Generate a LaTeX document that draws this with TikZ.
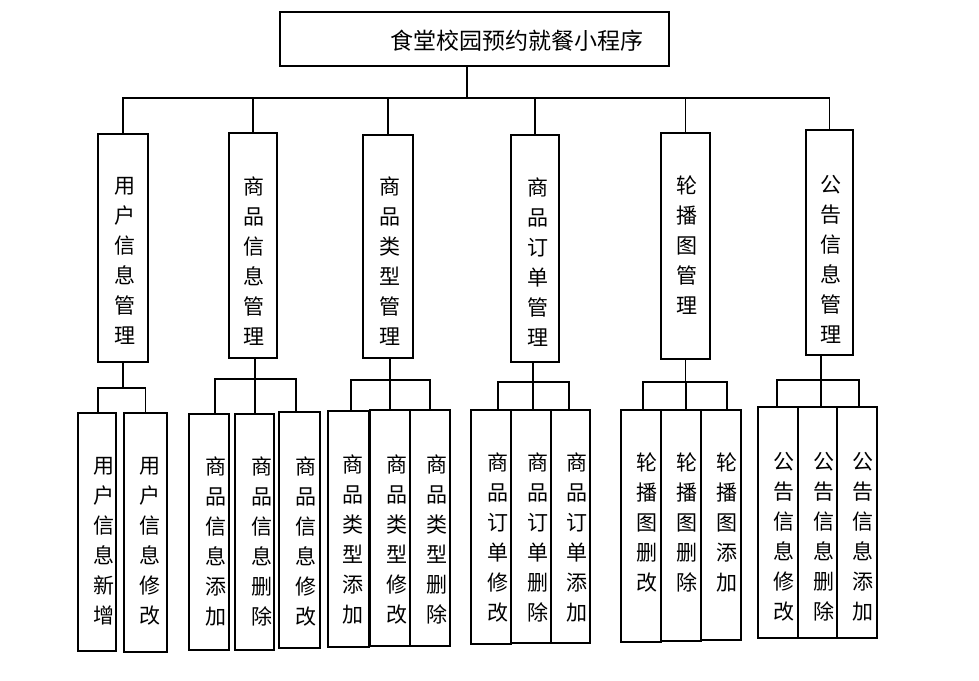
\documentclass[tikz,border=0pt]{standalone}
\usepackage{fontspec}
\newfontfamily\cjk{Noto Sans CJK SC}
\tikzset{
  box/.style={draw, line width=1.8pt, inner sep=0pt, rectangle, fill=white},
  vtext/.style={anchor=north, font=\cjk\fontsize{21}{30}\selectfont, align=center, inner sep=0pt},
  conn/.style={line width=1.8pt, line cap=rect}
}
\newcommand\mkbox[8]{%
  \node[box, minimum width={#4-#2}, minimum height={#5-#3}] (#1) at ({(#2+#4)/2},{(#3+#5)/2}) {};
  \node[vtext] (#1t) at (#6,#7) {#8};}
\newcommand\mydrop[3]{\draw[conn] ([xshift=#2]#1.north) -- ([xshift=#2]#1.north |- #3);}
\begin{document}
\begin{tikzpicture}[x=1pt,y=-1pt]
\useasboundingbox (0,0) rectangle (979,680);
% top
\node[box, minimum width=389, minimum height=54] (top) at (474.5,39) {};
\node[font=\cjk\fontsize{23}{28}\selectfont, inner sep=0pt] (topt) at (517,41) {食堂校园预约就餐小程序};
% level 2
\mkbox{c1}{98}{134}{148}{362}{125}{177}{用\\户\\信\\息\\管\\理}
\mkbox{c2}{229}{133}{277}{358}{254}{177}{商\\品\\信\\息\\管\\理}
\mkbox{c3}{363}{135}{413}{358}{390}{177}{商\\品\\类\\型\\管\\理}
\mkbox{c4}{511}{135}{559}{362}{538}{178}{商\\品\\订\\单\\管\\理}
\mkbox{c5}{661}{133}{710}{359}{687}{176}{轮\\播\\图\\管\\理}
\mkbox{c6}{806}{130}{853}{355}{831}{175}{公\\告\\信\\息\\管\\理}
% bus
\coordinate (bus) at (467,98);
\draw[conn] ([xshift=-7.5pt]top.south) -- ([xshift=-7.5pt]top.south |- bus);
\draw[conn] (c1.north |- bus) -- (c6.north |- bus);
\foreach \c in {c1,c2,c3,c4,c5,c6} { \draw[conn] (\c.north) -- (\c.north |- bus); }
% level 3 group 1
\mkbox{a}{78}{413}{116}{651}{104}{457}{用\\户\\信\\息\\新\\增}
\mkbox{b}{124}{413}{167}{652}{150}{457}{用\\户\\信\\息\\修\\改}
% group 2
\mkbox{d1}{189}{414}{229}{650}{216}{457}{商\\品\\信\\息\\添\\加}
\mkbox{d2}{235}{414}{274}{650}{262}{457}{商\\品\\信\\息\\删\\除}
\mkbox{d3}{279}{412}{320}{648}{306}{457}{商\\品\\信\\息\\修\\改}
% group 3
\mkbox{e1}{328}{411}{369}{647}{353}{455}{商\\品\\类\\型\\添\\加}
\mkbox{e2}{370}{410}{410}{646}{397}{455}{商\\品\\类\\型\\修\\改}
\mkbox{e3}{410}{410}{450}{646}{437}{455}{商\\品\\类\\型\\删\\除}
% group 4
\mkbox{f1}{471}{410}{511}{644}{498}{453}{商\\品\\订\\单\\修\\改}
\mkbox{f2}{511}{410}{551}{643}{538}{453}{商\\品\\订\\单\\删\\除}
\mkbox{f3}{551}{410}{590}{643}{577}{453}{商\\品\\订\\单\\添\\加}
% group 5
\mkbox{g1}{621}{410}{661}{642}{647}{453}{轮\\播\\图\\删\\改}
\mkbox{g2}{661}{410}{701}{641}{687}{453}{轮\\播\\图\\删\\除}
\mkbox{g3}{701}{410}{741}{640}{727}{453}{轮\\播\\图\\添\\加}
% group 6
\mkbox{h1}{758}{407}{798}{638}{784}{452}{公\\告\\信\\息\\修\\改}
\mkbox{h2}{798}{407}{837}{638}{824}{452}{公\\告\\信\\息\\删\\除}
\mkbox{h3}{837}{407}{877}{638}{863}{452}{公\\告\\信\\息\\添\\加}
% junctions
\coordinate (j1) at (0,388);
\coordinate (j2) at (0,379);
\coordinate (j3) at (0,380);
\coordinate (j4) at (0,382);
\coordinate (j5) at (0,382);
\coordinate (j6) at (0,380);
% group 1 connectors
\draw[conn] (c1.south) -- (c1.south |- j1);
\draw[conn] ([xshift=1.3pt]a.north |- j1) -- (b.north |- j1);
\mydrop{a}{1.3pt}{j1} \mydrop{b}{0pt}{j1}
% group 2
\draw[conn] ([xshift=2pt]c2.south) -- ([xshift=2pt]c2.south |- j2);
\draw[conn] ([xshift=6pt]d1.north |- j2) -- ([xshift=-3.5pt]d3.north |- j2);
\mydrop{d1}{6pt}{j2} \mydrop{d2}{0.5pt}{j2} \mydrop{d3}{-3.5pt}{j2}
% group 3
\draw[conn] ([xshift=2pt]c3.south) -- ([xshift=2pt]c3.south |- j3);
\draw[conn] ([xshift=2.7pt]e1.north |- j3) -- (e3.north |- j3);
\mydrop{e1}{2.7pt}{j3} \mydrop{e2}{0pt}{j3} \mydrop{e3}{0pt}{j3}
% group 4
\draw[conn] ([xshift=-2pt]c4.south) -- ([xshift=-2pt]c4.south |- j4);
\draw[conn] ([xshift=7pt]f1.north |- j4) -- ([xshift=-1.5pt]f3.north |- j4);
\mydrop{f1}{7pt}{j4} \mydrop{f2}{2pt}{j4} \mydrop{f3}{-1.5pt}{j4}
% group 5
\draw[conn] (c5.south) -- (c5.south |- j5);
\draw[conn] ([xshift=2pt]g1.north |- j5) -- ([xshift=6pt]g3.north |- j5);
\mydrop{g1}{2pt}{j5} \mydrop{g2}{5pt}{j5} \mydrop{g3}{6pt}{j5}
% group 6
\draw[conn] ([xshift=-8.5pt]c6.south) -- ([xshift=-8.5pt]c6.south |- j6);
\draw[conn] ([xshift=-1pt]h1.north |- j6) -- ([xshift=2pt]h3.north |- j6);
\mydrop{h1}{-1pt}{j6} \mydrop{h2}{3.5pt}{j6} \mydrop{h3}{2pt}{j6}
\end{tikzpicture}
\end{document}
